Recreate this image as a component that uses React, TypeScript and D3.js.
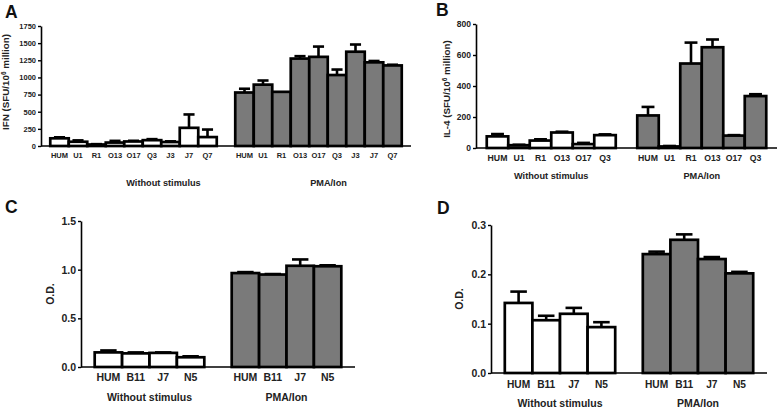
import React, { useEffect, useRef } from 'react';
import * as d3 from 'd3';

const FONT = "'Liberation Sans', Arial, sans-serif";
const GRAY = '#7a7a7a';

// panel A - IFN
const catsA = ['HUM', 'U1', 'R1', 'O13', 'O17', 'Q3', 'J3', 'J7', 'Q7'];
const ifnWithout = [112, 62, 22, 50, 66, 85, 58, 265, 130];
const ifnWithoutErr = [15, 20, 5, 25, 10, 15, 10, 195, 110];
const ifnPma = [780, 895, 790, 1275, 1300, 1035, 1375, 1220, 1175];
const ifnPmaErr = [55, 60, 0, 35, 150, 80, 105, 20, 10];
const ticksA = [0, 250, 500, 750, 1000, 1250, 1500, 1750];

// panel B - IL-4
const catsB = ['HUM', 'U1', 'R1', 'O13', 'O17', 'Q3'];
const il4Without = [75, 18, 48, 100, 25, 83];
const il4WithoutErr = [15, 3, 8, 5, 8, 5];
const il4Pma = [210, 10, 545, 650, 80, 335];
const il4PmaErr = [55, 3, 135, 50, 3, 12];
const ticksB = [0, 200, 400, 600, 800];

// panels C and D - O.D.
const catsCD = ['HUM', 'B11', 'J7', 'N5'];
const odCWithout = [0.15, 0.14, 0.145, 0.1];
const odCWithoutErr = [0.02, 0.01, 0.005, 0.01];
const odCPma = [0.965, 0.95, 1.04, 1.035];
const odCPmaErr = [0.01, 0.005, 0.065, 0.01];
const ticksC = [0, 0.5, 1.0, 1.5];

const odDWithout = [0.142, 0.107, 0.12, 0.093];
const odDWithoutErr = [0.023, 0.009, 0.012, 0.01];
const odDPma = [0.241, 0.27, 0.231, 0.202];
const odDPmaErr = [0.005, 0.011, 0.004, 0.003];
const ticksD = [0, 0.1, 0.2, 0.3];

const groupNames = ['Without stimulus', 'PMA/Ion'];

function YLabel({ x, y, size, main, sup, rest }) {
  return (
    <text
      transform={`translate(${x},${y}) rotate(-90)`}
      textAnchor="middle"
      dy="0.35em"
      fontSize={size}
      fontWeight="bold"
      fontFamily={FONT}
      fill="#222"
    >
      {main}
      {sup && (
        <tspan fontSize={size * 0.65} dy={-size * 0.4}>
          {sup}
        </tspan>
      )}
      {rest && <tspan dy={sup ? size * 0.4 : 0}>{rest}</tspan>}
    </text>
  );
}

function Panel(props) {
  const {
    letter, lx, ly, cats, without, withoutErr, pma, pmaErr,
    yMax, ticks, fmt, left, right, yTop, y0,
    tickFont, catFont, groupFont, catY, groupY, groupShift, label,
  } = props;
  const axisRef = useRef(null);

  const slots = [...cats.map(c => 'w-' + c), 'gap', ...cats.map(c => 'p-' + c)];
  const x = d3.scaleBand().domain(slots).range([left, right]).paddingOuter(0.5).paddingInner(0);
  const y = d3.scaleLinear().domain([0, yMax]).range([y0, yTop]);
  const bw = x.bandwidth();

  useEffect(() => {
    const g = d3.select(axisRef.current);
    g.selectAll('*').remove();
    g.call(
      d3.axisLeft(y).tickValues(ticks).tickSize(3).tickSizeOuter(0).tickPadding(2).tickFormat(fmt)
    );
    g.attr('font-family', FONT).attr('font-size', tickFont).attr('font-weight', 'bold');
    g.select('.domain').attr('stroke-width', 1.6);
    g.selectAll('.tick line').attr('stroke-width', 1.4);
    g.selectAll('.tick text').attr('fill', '#222');
  });

  const groups = [
    { key: 'w', vals: without, errs: withoutErr, fill: '#fff' },
    { key: 'p', vals: pma, errs: pmaErr, fill: GRAY },
  ];

  return (
    <g>
      <text x={lx} y={ly} fontFamily={FONT} fontWeight="bold" fontSize={17.5} fill="#111">
        {letter}
      </text>
      {groups.map(gr =>
        cats.map((c, i) => {
          const k = gr.key + '-' + c;
          const v = gr.vals[i];
          const e = gr.errs[i];
          const cx = x(k) + bw / 2;
          return (
            <g key={k}>
              {e > 0 && (
                <g stroke="#000" strokeWidth={2.6}>
                  <line x1={cx} x2={cx} y1={y(v)} y2={y(v + e)} />
                  <line x1={cx - bw * 0.3} x2={cx + bw * 0.3} y1={y(v + e)} y2={y(v + e)} />
                </g>
              )}
              <rect
                x={x(k)}
                y={y(v)}
                width={bw}
                height={y0 - y(v)}
                fill={gr.fill}
                stroke="#000"
                strokeWidth={2.7}
              />
              <text
                x={cx}
                y={catY}
                textAnchor="middle"
                fontFamily={FONT}
                fontWeight="bold"
                fontSize={catFont}
                fill="#222"
              >
                {c}
              </text>
            </g>
          );
        })
      )}
      <line x1={left} x2={right} y1={y0} y2={y0} stroke="#000" strokeWidth={1.6} />
      <g ref={axisRef} transform={`translate(${left},0)`} />
      {groups.map((gr, gi) => {
        const first = x(gr.key + '-' + cats[0]);
        const last = x(gr.key + '-' + cats[cats.length - 1]) + bw;
        return (
          <text
            key={gr.key}
            x={(first + last) / 2 + groupShift[gi]}
            y={groupY}
            textAnchor="middle"
            fontFamily={FONT}
            fontWeight="bold"
            fontSize={groupFont}
            fill="#222"
          >
            {groupNames[gi]}
          </text>
        );
      })}
      <YLabel {...label} />
    </g>
  );
}

export default function App() {
  const f1 = d3.format('.1f');
  const f0 = d3.format('d');
  return (
    <svg
      width={778}
      height={410}
      style={{ position: 'absolute', left: 0, top: 0, background: '#fff' }}
    >
      <Panel
        letter="A" lx={5} ly={18}
        cats={catsA} without={ifnWithout} withoutErr={ifnWithoutErr} pma={ifnPma} pmaErr={ifnPmaErr}
        yMax={1750} ticks={ticksA} fmt={f0}
        left={41} right={411} yTop={26} y0={146}
        tickFont={7.5} catFont={7.5} groupFont={9.2} catY={158} groupY={186} groupShift={[30, 10]}
        label={{ x: 6, y: 82, size: 9.8, main: 'IFN (SFU/10', sup: '6', rest: ' million)' }}
      />
      <Panel
        letter="B" lx={436} ly={16}
        cats={catsB} without={il4Without} withoutErr={il4WithoutErr} pma={il4Pma} pmaErr={il4PmaErr}
        yMax={800} ticks={ticksB} fmt={f0}
        left={476} right={777} yTop={24} y0={148}
        tickFont={8.5} catFont={8.7} groupFont={9.2} catY={161} groupY={179} groupShift={[0, 0]}
        label={{ x: 447, y: 89, size: 9.8, main: 'IL-4 (SFU/10', sup: '6', rest: ' million)' }}
      />
      <Panel
        letter="C" lx={5} ly={213}
        cats={catsCD} without={odCWithout} withoutErr={odCWithoutErr} pma={odCPma} pmaErr={odCPmaErr}
        yMax={1.5} ticks={ticksC} fmt={f1}
        left={81} right={355} yTop={221} y0={367}
        tickFont={10.5} catFont={10.5} groupFont={10.5} catY={381} groupY={401} groupShift={[0, 0]}
        label={{ x: 50, y: 294, size: 10.5, main: 'O.D.' }}
      />
      <Panel
        letter="D" lx={437} ly={214}
        cats={catsCD} without={odDWithout} withoutErr={odDWithoutErr} pma={odDPma} pmaErr={odDPmaErr}
        yMax={0.3} ticks={ticksD} fmt={f1}
        left={491} right={767} yTop={225} y0={373}
        tickFont={10.5} catFont={10.2} groupFont={10.5} catY={388} groupY={407} groupShift={[0, 0]}
        label={{ x: 459, y: 299, size: 10.5, main: 'O.D.' }}
      />
    </svg>
  );
}
